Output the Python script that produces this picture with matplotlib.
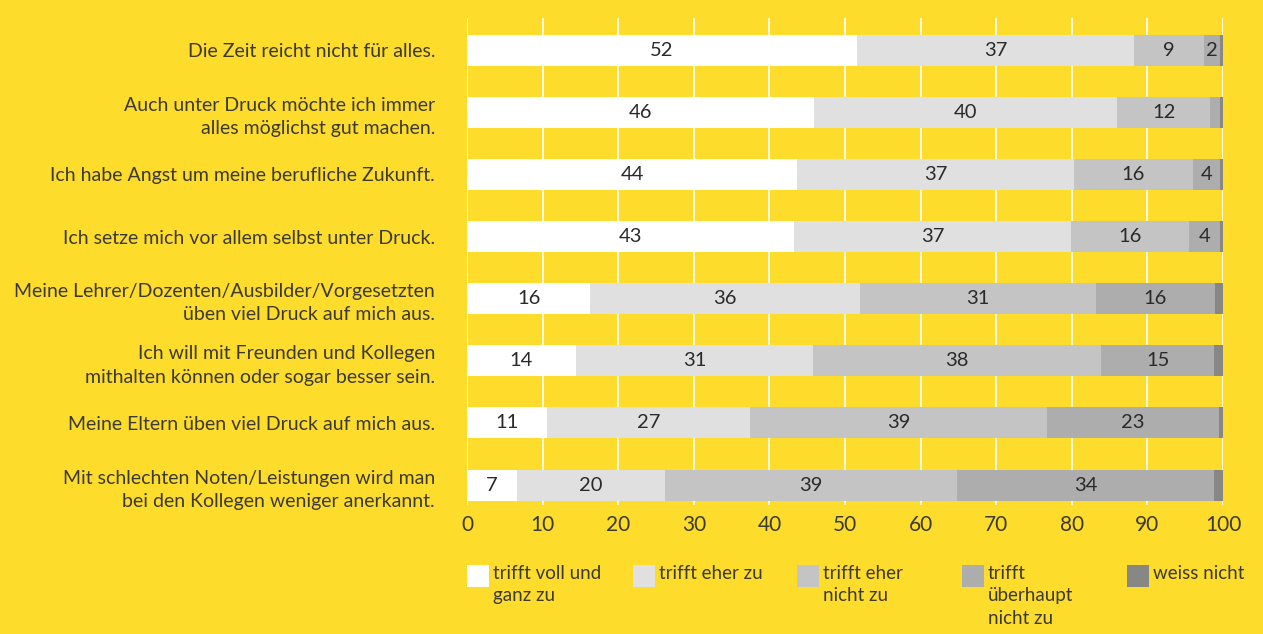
import numpy as np
import matplotlib
matplotlib.use("Agg")
import matplotlib.pyplot as plt
from matplotlib.patches import Rectangle

plt.rcParams['font.family'] = ['Lato', 'DejaVu Sans']

# Daten (Anteile in %)
fragen = [
    "Die Zeit reicht nicht für alles.",
    "Auch unter Druck möchte ich immer\nalles möglichst gut machen.",
    "Ich habe Angst um meine berufliche Zukunft.",
    "Ich setze mich vor allem selbst unter Druck.",
    "Meine Lehrer/Dozenten/Ausbilder/Vorgesetzten\nüben viel Druck auf mich aus.",
    "Ich will mit Freunden und Kollegen\nmithalten können oder sogar besser sein.",
    "Meine Eltern üben viel Druck auf mich aus.",
    "Mit schlechten Noten/Leistungen wird man\nbei den Kollegen weniger anerkannt.",
]
voll_und_ganz = [51.6, 45.9, 43.7, 43.3, 16.3, 14.4, 10.6, 6.6]
eher_zu = [36.6, 40.1, 36.6, 36.6, 35.7, 31.4, 26.8, 19.6]
eher_nicht = [9.3, 12.3, 15.7, 15.6, 31.2, 38.1, 39.3, 38.6]
ueberhaupt_nicht = [2.1, 1.3, 3.6, 4.1, 15.7, 14.9, 22.8, 34.0]
weiss_nicht = [0.4, 0.4, 0.4, 0.4, 1.1, 1.2, 0.5, 1.2]

serien = [voll_und_ganz, eher_zu, eher_nicht, ueberhaupt_nicht, weiss_nicht]
legende = ["trifft voll und\nganz zu", "trifft eher zu", "trifft eher\nnicht zu",
           "trifft\nüberhaupt\nnicht zu", "weiss nicht"]
farben = ["#ffffff", "#e0e0e0", "#c4c4c4", "#adadad", "#878783"]
x_ticks = [0, 10, 20, 30, 40, 50, 60, 70, 80, 90, 100]

gelb = "#fddc2b"
textfarbe = "#3c3a30"

fig = plt.figure(figsize=(12.63, 6.34), dpi=100, facecolor=gelb)
ax = fig.add_axes([0.3698, 0.2035, 0.5986, 0.768], facecolor=gelb)

y = np.arange(len(fragen))
links = np.zeros(len(fragen))
for werte, farbe in zip(serien, farben):
    werte = np.array(werte)
    ax.barh(y, werte, left=links, height=0.5, color=farbe, zorder=2)
    if farbe != farben[-1]:
        for yi, l, w in zip(y, links, werte):
            if round(w) >= 2:
                ax.text(l + w / 2, yi, str(int(round(w))), ha='center', va='center',
                        fontsize=14.5, color="#2a2a2a", zorder=3)
    links += werte

ax.set_xlim(0, 100)
ax.set_ylim(7.32, -0.515)
ax.set_xticks(x_ticks)
ax.set_xticklabels([str(t) for t in x_ticks], fontsize=15, color=textfarbe)
ax.set_yticks(y)
ax.set_yticklabels(fragen, fontsize=14, color=textfarbe, ha='right',
                   linespacing=1.45)
ax.tick_params(axis='y', length=0, pad=23)
ax.tick_params(axis='x', length=0, pad=7)
ax.grid(axis='x', color='white', linewidth=1.2, zorder=0)
for s in ax.spines.values():
    s.set_visible(False)

# Legende manuell
W, H = 1263, 634
leg_x = [467, 633, 797, 962, 1127]
for lx, farbe, txt in zip(leg_x, farben, legende):
    fig.add_artist(Rectangle((lx / W, 1 - 587 / H), 22 / W, 22 / H,
                             transform=fig.transFigure, facecolor=farbe,
                             edgecolor='none'))
    fig.text((lx + 26) / W, 1 - 565 / H, txt, ha='left', va='top',
             fontsize=13.5, color=textfarbe, linespacing=1.38)

fig.savefig("out.png", dpi=100, facecolor=gelb)
